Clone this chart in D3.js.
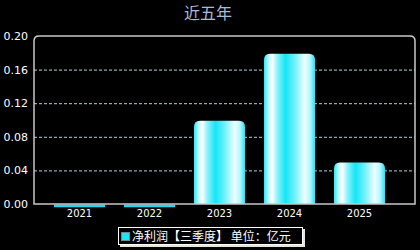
<!DOCTYPE html>
<html><head><meta charset="utf-8">
<script src="https://cdnjs.cloudflare.com/ajax/libs/d3/7.8.5/d3.min.js"></script>
<style>html,body{margin:0;padding:0;background:#000;}svg{display:block;}</style>
</head><body>
<script>
const years = ["2021","2022","2023","2024","2025"];
const profit = [-0.002, -0.002, 0.099, 0.179, 0.0495];
const yTicks = [0, 0.04, 0.08, 0.12, 0.16, 0.20];
const tickLabels = ["0.00","0.04","0.08","0.12","0.16","0.20"];
const title = "近五年";
const legendLabel = "净利润【三季度】 单位：亿元";

const W = 420, H = 250;
const L = 34, R = 415, T = 36, B = 204;
const svg = d3.select("body").append("svg").attr("width", W).attr("height", H);

const defs = svg.append("defs");
const g = defs.append("linearGradient").attr("id","bar").attr("x1","0").attr("x2","1").attr("y1","0").attr("y2","0");
[[0,"#2fe6f6"],[0.1,"#c8fbff"],[0.16,"#ffffff"],[0.26,"#8ef3fb"],[0.42,"#14e6f8"],[0.6,"#6ff0fb"],[0.8,"#eefeff"],[0.9,"#b6f8fd"],[1,"#22e3f5"]]
  .forEach(([o,c]) => g.append("stop").attr("offset", o).attr("stop-color", c));

const x = d3.scaleBand().domain(years).range([44.5, 394.5]).paddingInner(0).paddingOuter(0);
const y = d3.scaleLinear().domain([0, 0.20]).range([B, T]);
const bw = 51;

svg.append("text").attr("x", 208).attr("y", 19).attr("text-anchor","middle")
  .attr("font-family","Noto Sans CJK SC").attr("font-size", 16).attr("fill","#a9bcd6").text(title);

// grid
svg.append("g").selectAll("line").data(yTicks.filter(v => v > 0 && v < 0.2)).join("line")
  .attr("x1", L).attr("x2", R).attr("y1", d => y(d) + 0.5).attr("y2", d => y(d) + 0.5)
  .attr("stroke","#b4d2e0").attr("stroke-width",1).attr("stroke-dasharray","3,2");

// y labels
svg.append("g").selectAll("text").data(yTicks).join("text")
  .attr("x", 28).attr("y", d => y(d) + 4).attr("text-anchor","end")
  .attr("font-family","DejaVu Sans").attr("font-size", 11).attr("fill","#fff")
  .text((d,i) => tickLabels[i]);

// bars
const r = 6;
svg.append("g").selectAll("path").data(years).join("path")
  .attr("d", (d,i) => {
    const v = profit[i];
    const x0 = x(d) + x.bandwidth()/2 - bw/2, x1 = x0 + bw;
    if (v <= 0) {
      const y0 = y(0) + 0.5, y1 = y(v) + 1.5;
      return `M${x0},${y0}H${x1}V${y1}H${x0}Z`;
    }
    const yt = y(v), yb = y(0);
    const rr = Math.min(r, (yb-yt)/2);
    return `M${x0},${yb}V${yt+rr}Q${x0},${yt} ${x0+rr},${yt}H${x1-rr}Q${x1},${yt} ${x1},${yt+rr}V${yb}Z`;
  })
  .attr("fill", (d,i) => profit[i] <= 0 ? "#22d8f0" : "url(#bar)");

// frame
const fr = 5;
svg.append("path")
  .attr("d", `M${L},${B}V${T+fr}Q${L},${T} ${L+fr},${T}H${R-fr}Q${R},${T} ${R},${T+fr}V${B}Z`)
  .attr("fill","none").attr("stroke","#c8c8c8").attr("stroke-width",1.5);

// x labels
svg.append("g").selectAll("text").data(years).join("text")
  .attr("x", d => x(d) + x.bandwidth()/2).attr("y", 217).attr("text-anchor","middle")
  .attr("font-family","DejaVu Sans").attr("font-size", 10).attr("fill","#fff").text(d => d);

// legend
const lg = svg.append("g");
lg.append("rect").attr("x", 120).attr("y", 229).attr("width", 185).attr("height", 18).attr("fill","#e6e6d8");
lg.append("rect").attr("x", 118.5).attr("y", 227.5).attr("width", 184).attr("height", 17).attr("fill","#000").attr("stroke","#fff").attr("stroke-width",1);
lg.append("rect").attr("x", 121.5).attr("y", 232.5).attr("width", 8).attr("height", 8).attr("fill","#22e3f5").attr("stroke","#6a8a90").attr("stroke-width",1);
lg.append("text").attr("x", 132).attr("y", 241).attr("font-family","Noto Sans CJK SC").attr("font-size", 12).attr("fill","#fff").text(legendLabel);
</script>
</body></html>
